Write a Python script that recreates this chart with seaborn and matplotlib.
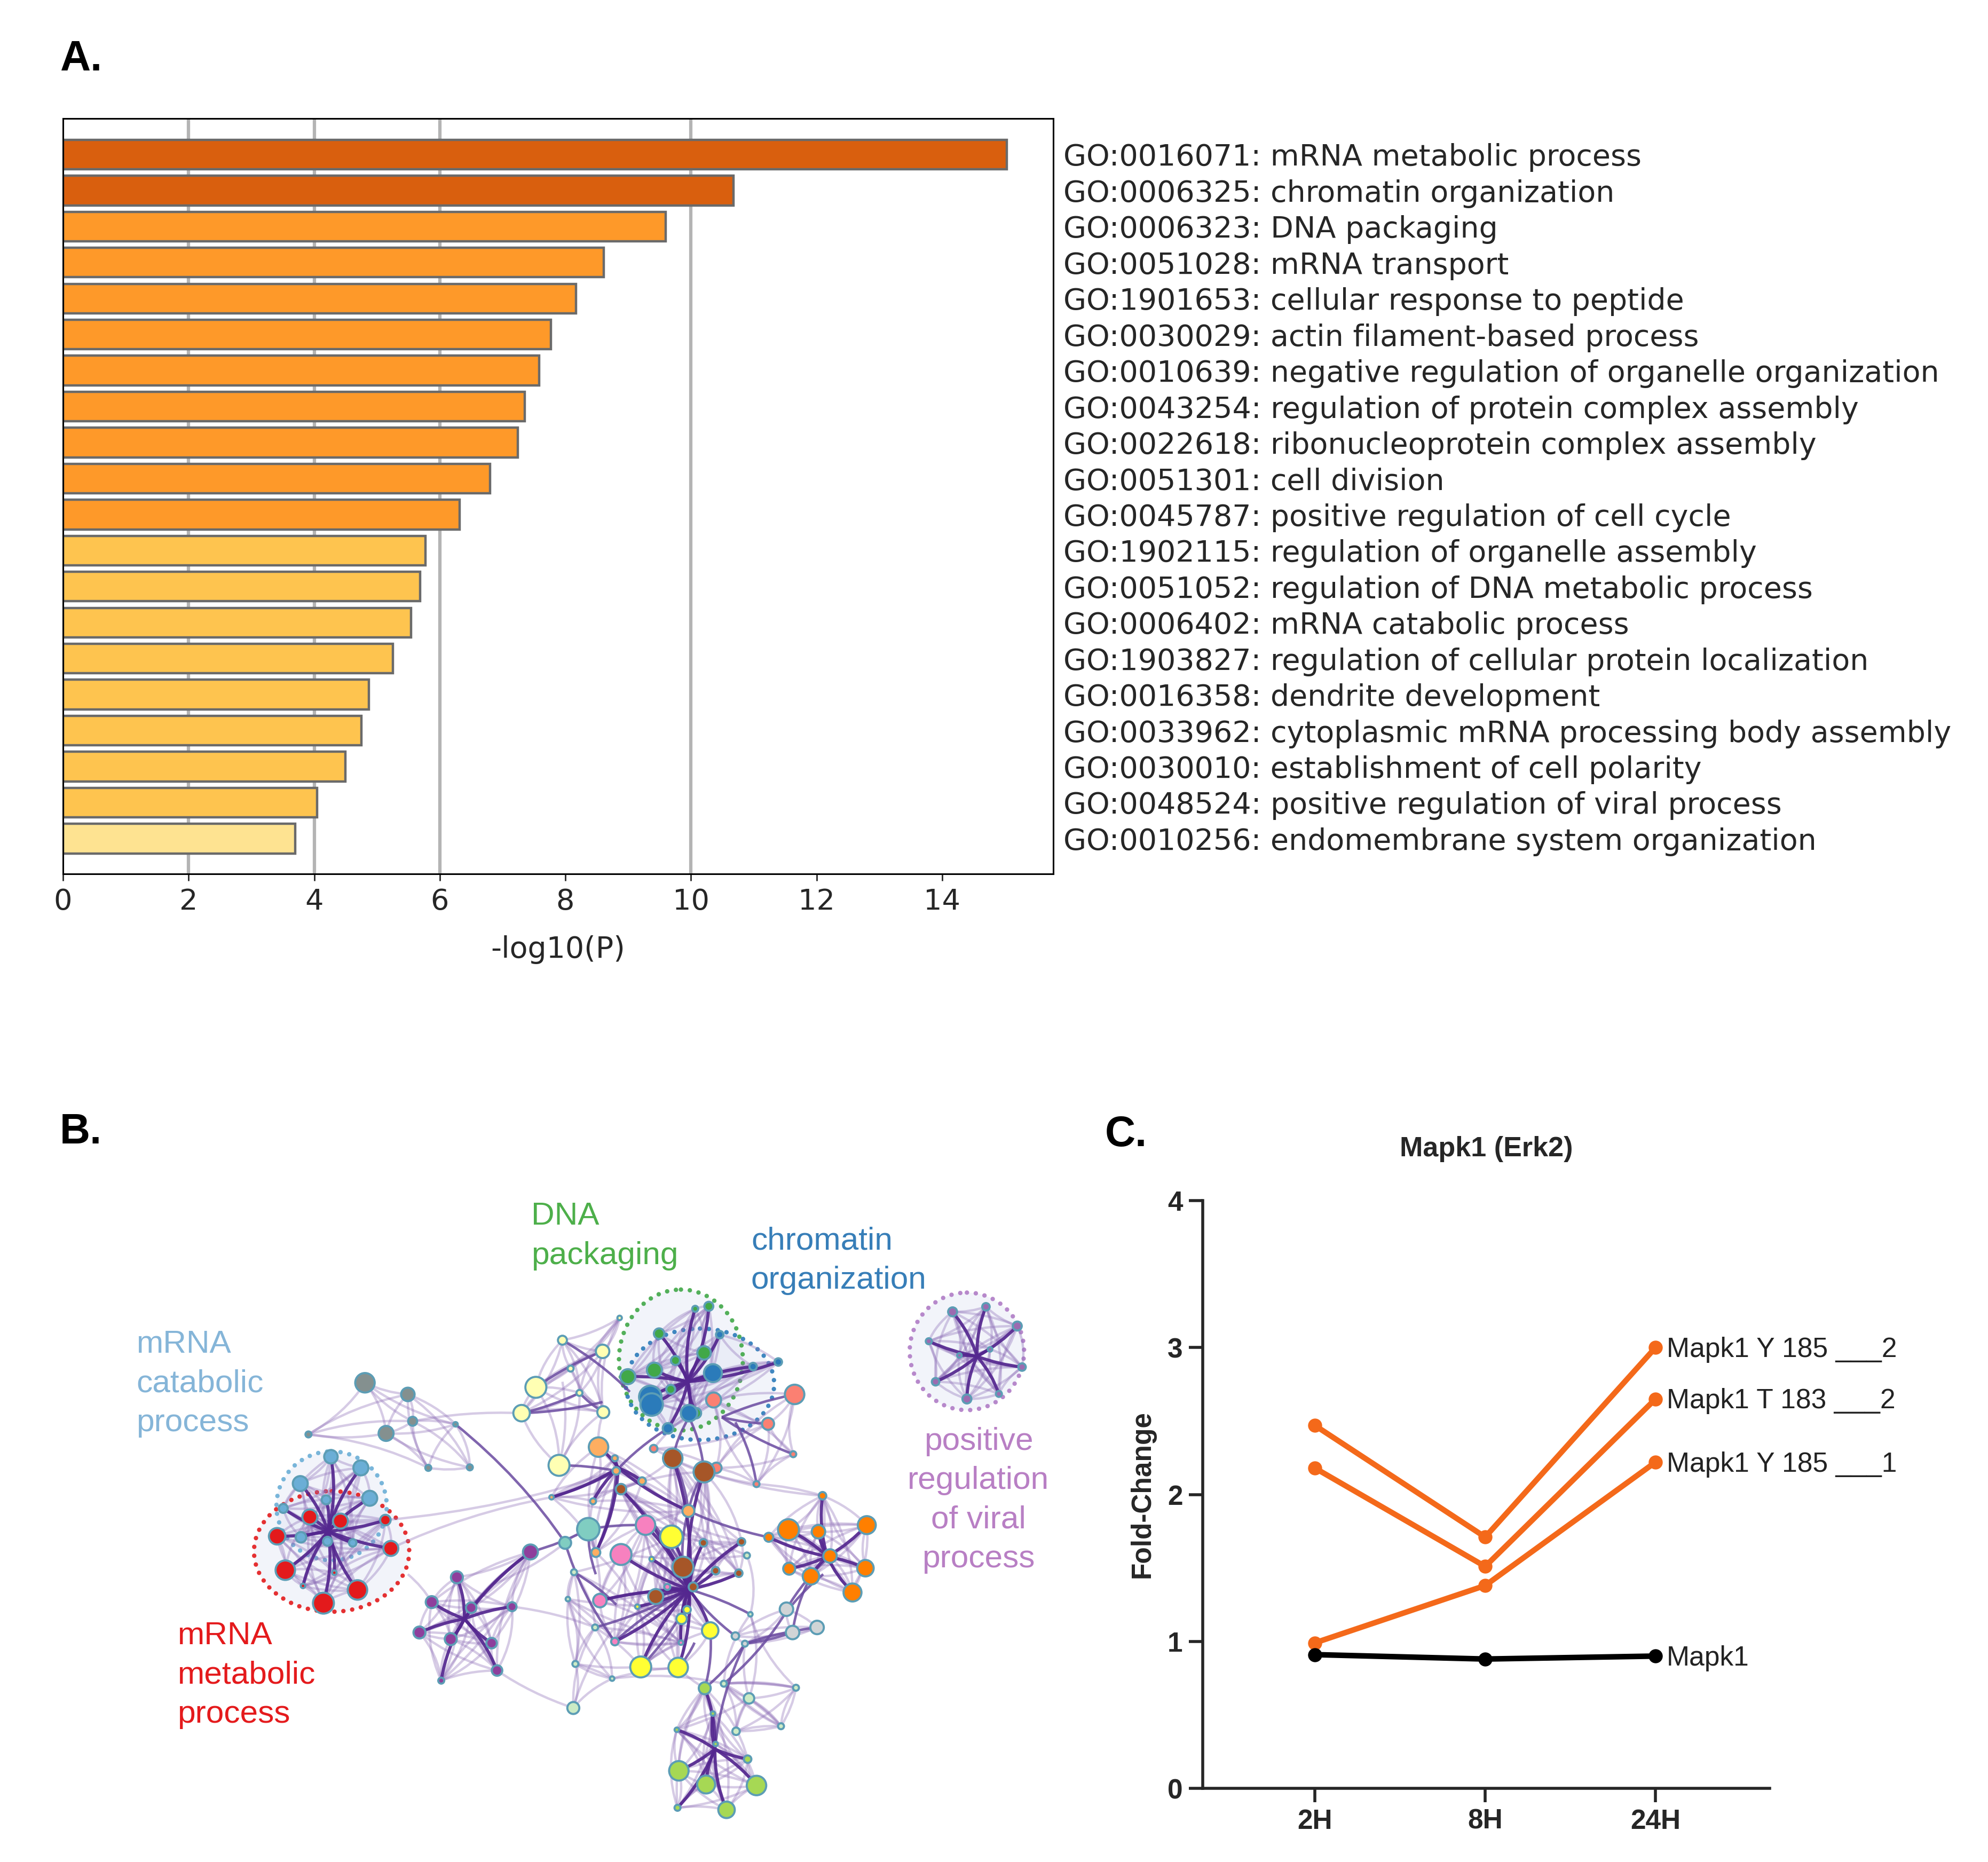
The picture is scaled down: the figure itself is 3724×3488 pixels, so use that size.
import numpy as np
import pandas as pd
import matplotlib
matplotlib.use('Agg')
from matplotlib import pyplot as plt
from matplotlib.collections import PathCollection
from matplotlib.patches import Ellipse
from matplotlib.path import Path
import seaborn as sns

W, H = 3724, 3488

# panel A
go_terms = ['GO:0016071: mRNA metabolic process', 'GO:0006325: chromatin organization',
            'GO:0006323: DNA packaging', 'GO:0051028: mRNA transport',
            'GO:1901653: cellular response to peptide', 'GO:0030029: actin filament-based process',
            'GO:0010639: negative regulation of organelle organization',
            'GO:0043254: regulation of protein complex assembly',
            'GO:0022618: ribonucleoprotein complex assembly', 'GO:0051301: cell division',
            'GO:0045787: positive regulation of cell cycle', 'GO:1902115: regulation of organelle assembly',
            'GO:0051052: regulation of DNA metabolic process', 'GO:0006402: mRNA catabolic process',
            'GO:1903827: regulation of cellular protein localization', 'GO:0016358: dendrite development',
            'GO:0033962: cytoplasmic mRNA processing body assembly', 'GO:0030010: establishment of cell polarity',
            'GO:0048524: positive regulation of viral process', 'GO:0010256: endomembrane system organization']
log_p = [15.03, 10.68, 9.60, 8.61, 8.17, 7.77, 7.58, 7.35, 7.24, 6.80,
         6.32, 5.77, 5.69, 5.54, 5.25, 4.87, 4.75, 4.50, 4.05, 3.70]
bar_level = ['a', 'a', 'b', 'b', 'b', 'b', 'b', 'b', 'b', 'b',
             'b', 'c', 'c', 'c', 'c', 'c', 'c', 'c', 'c', 'd']
level_colors = {'a': '#d95f0e', 'b': '#fe9929', 'c': '#fec44f', 'd': '#fee391'}
grid_at = [2, 4, 6, 10]

# panel C
timepoints = ['2H', '8H', '24H']
y185_2 = [2.47, 1.71, 3.00]
t183_2 = [2.18, 1.51, 2.65]
y185_1 = [0.99, 1.38, 2.22]
mapk1 = [0.91, 0.88, 0.90]
line_labels = ['Mapk1 Y 185 ___2', 'Mapk1 T 183 ___2', 'Mapk1 Y 185 ___1', 'Mapk1']

# panel B, node positions and radii
gray_x = [536, 599, 567, 606, 453, 669, 629, 690]
gray_y = [622, 645, 722, 698, 724, 704, 790, 789]
gray_r = [13, 9, 10, 6, 4, 3, 4, 4]
ltblue_x = [486, 530, 441, 543, 479, 416, 442, 481, 518]
ltblue_y = [768, 790, 821, 850, 853, 870, 927, 935, 938]
ltblue_r = [9, 10, 10, 10, 6, 6, 7, 6, 5]
red_x = [455, 500, 566, 407, 574, 419, 525, 475, 445, 491]
red_y = [887, 895, 893, 925, 949, 992, 1031, 1057, 1023, 997]
red_r = [10, 10, 7, 11, 10, 13, 13, 14, 3, 3]
violet_x = [671, 634, 692, 752, 616, 662, 722, 730, 648, 779]
violet_y = [1006, 1055, 1066, 1064, 1115, 1128, 1136, 1190, 1210, 956]
violet_r = [8, 8, 7, 6, 8, 8, 7, 7, 4, 10]
viral_x = [1399, 1448, 1494, 1364, 1501, 1374, 1420, 1467, 1409, 1454]
viral_y = [482, 472, 510, 540, 591, 620, 654, 644, 568, 556]
viral_r = [6, 5, 6, 4, 5, 5, 6, 4, 3, 3]
green_x = [1041, 1021, 968, 1034, 992, 961, 922, 985, 1022]
green_y = [471, 476, 525, 563, 578, 597, 610, 635, 682]
green_r = [6, 4, 7, 9, 6, 10, 10, 6, 7]
blue_x = [955, 957, 1047, 1012, 1057, 1106, 1143, 981]
blue_y = [650, 665, 603, 682, 527, 590, 581, 712]
blue_r = [15, 15, 12, 11, 5, 5, 5, 7]
salmon_x = [1167, 1048, 1128, 1165, 1111, 1052, 960]
salmon_y = [645, 656, 703, 763, 822, 790, 752]
salmon_r = [13, 10, 8, 4, 4, 7, 5]
pale_x = [787, 766, 885, 886, 826, 910, 851, 838, 821]
pale_y = [631, 682, 560, 680, 538, 494, 642, 594, 785]
pale_r = [14, 11, 9, 8, 6, 3, 4, 4, 14]
apricot_x = [879, 903, 905, 943, 871, 810, 1011, 875]
apricot_y = [749, 771, 796, 816, 856, 848, 875, 957]
apricot_r = [13, 4, 5, 5, 4, 3, 8, 6]
brown_x = [988, 1034, 912, 1003, 963, 1018, 1085, 1089, 1051, 1033]
brown_y = [771, 798, 832, 986, 1044, 1025, 998, 936, 993, 938]
brown_r = [13, 14, 7, 14, 10, 6, 5, 5, 5, 5]
teal_x = [864, 830]
teal_y = [911, 938]
teal_r = [15, 8]
pink_x = [948, 912, 881, 903, 1000, 980]
pink_y = [903, 961, 1052, 1133, 1135, 1025]
pink_r = [13, 14, 9, 5, 3, 4]
yellow_x = [986, 1043, 941, 996, 1001, 1009, 957, 936]
yellow_y = [926, 1111, 1183, 1184, 1088, 1070, 970, 1064]
yellow_r = [15, 11, 14, 13, 7, 5, 3, 3]
orange_x = [1158, 1202, 1273, 1129, 1219, 1159, 1191, 1271, 1252, 1208]
orange_y = [912, 916, 903, 927, 964, 989, 1004, 988, 1036, 845]
orange_r = [14, 9, 12, 6, 9, 8, 11, 11, 12, 5]
silver_x = [1155, 1164, 1200, 1080, 1094]
silver_y = [1069, 1115, 1105, 1122, 1137]
silver_r = [9, 9, 9, 5, 4]
mint_x = [842, 1063, 1100, 1169, 1147, 1081, 843, 834, 874, 845, 899, 1102, 1097]
mint_y = [1264, 1216, 1245, 1224, 1300, 1310, 996, 1049, 1105, 1177, 1206, 1079, 963]
mint_r = [8, 4, 7, 4, 4, 5, 4, 3, 4, 4, 3, 3, 4]
lime_x = [1035, 1047, 994, 1051, 1098, 997, 1037, 1111, 1067, 995]
lime_y = [1225, 1275, 1307, 1335, 1365, 1388, 1415, 1417, 1465, 1461]
lime_r = [8, 3, 3, 3, 5, 13, 12, 13, 11, 4]

# name, x, y, r, colour, hub of the star (None = no star)
clusters = [
    ('gray', gray_x, gray_y, gray_r, '#84908f', None),
    ('ltblue', ltblue_x, ltblue_y, ltblue_r, '#6baed6', (482, 915)),
    ('red', red_x, red_y, red_r, '#e31a1c', (482, 915)),
    ('violet', violet_x, violet_y, violet_r, '#8e3f9c', (682, 1088)),
    ('viral', viral_x, viral_y, viral_r, '#9c6bb0', (1435, 570)),
    ('green', green_x, green_y, green_r, '#41a848', (1010, 620)),
    ('blue', blue_x, blue_y, blue_r, '#2b7bba', (1010, 620)),
    ('salmon', salmon_x, salmon_y, salmon_r, '#fb8072', None),
    ('pale', pale_x, pale_y, pale_r, '#ffffb3', None),
    ('apricot', apricot_x, apricot_y, apricot_r, '#fdae61', (908, 790)),
    ('brown', brown_x, brown_y, brown_r, '#a65628', (1012, 1030)),
    ('teal', teal_x, teal_y, teal_r, '#80cdc1', None),
    ('pink', pink_x, pink_y, pink_r, '#f781bf', (1012, 1030)),
    ('yellow', yellow_x, yellow_y, yellow_r, '#ffff33', (1012, 1030)),
    ('orange', orange_x, orange_y, orange_r, '#ff7f00', (1215, 965)),
    ('silver', silver_x, silver_y, silver_r, '#d0d4d6', None),
    ('mint', mint_x, mint_y, mint_r, '#ccebc5', None),
    ('lime', lime_x, lime_y, lime_r, '#a6d854', (1050, 1345)),
]

bridges_strong = [(669, 704, 830, 938), (779, 956, 864, 911), (692, 1066, 779, 956), (1011, 875, 1129, 927),
                  (988, 771, 1011, 875), (1034, 798, 1011, 875), (912, 832, 1003, 986), (1011, 875, 1003, 986),
                  (1155, 1069, 1219, 964), (1191, 1004, 1164, 1115), (1164, 1115, 1094, 1137), (1200, 1105, 1094, 1137),
                  (1043, 1111, 1035, 1225), (1094, 1137, 1050, 1345), (1094, 1137, 1035, 1225), (1102, 1079, 1012, 1030),
                  (1080, 1122, 1012, 1030), (766, 682, 885, 660), (905, 796, 981, 712), (810, 848, 905, 796),
                  (821, 785, 905, 796), (1012, 690, 988, 771), (1012, 690, 1034, 798), (1060, 690, 1165, 763),
                  (1080, 700, 1111, 822), (830, 938, 903, 1133), (864, 911, 948, 903), (875, 957, 905, 796),
                  (826, 538, 925, 640), (766, 682, 851, 642), (787, 631, 885, 560), (851, 642, 886, 680),
                  (1060, 690, 1167, 645), (1060, 690, 1128, 703), (881, 1052, 1012, 1030), (864, 911, 875, 1000),
                  (843, 996, 905, 1060), (874, 1105, 1012, 1030), (903, 1133, 1012, 1030), (941, 1183, 1012, 1050),
                  (1020, 1135, 996, 1184), (1063, 1216, 1147, 1090), (1147, 1090, 1209, 1000)]
bridges_light = [(606, 698, 766, 682), (566, 893, 905, 796), (574, 949, 810, 848), (730, 1190, 842, 1264),
                 (842, 1264, 900, 1110), (1034, 798, 1208, 845), (1111, 822, 1208, 845), (821, 785, 826, 620),
                 (599, 1000, 634, 1055), (722, 1021, 830, 938), (752, 1064, 874, 1105), (886, 680, 879, 749),
                 (1063, 1216, 1169, 1224), (1063, 1216, 1147, 1300), (1100, 1245, 1147, 1300), (1100, 1245, 1081, 1310),
                 (1169, 1224, 1147, 1300), (1081, 1310, 1147, 1300), (1100, 1245, 1094, 1137), (1169, 1224, 1063, 1216),
                 (874, 1105, 941, 1183), (845, 1177, 941, 1183), (899, 1206, 996, 1184), (845, 1177, 843, 996),
                 (843, 996, 1000, 1135), (834, 1049, 1000, 1135), (834, 1049, 903, 1133), (903, 1133, 1000, 1135),
                 (864, 911, 881, 1052), (912, 961, 881, 1052), (948, 903, 1097, 963), (986, 926, 1089, 936),
                 (875, 957, 936, 1064), (1035, 1225, 994, 1307), (1100, 1245, 994, 1307), (912, 961, 1097, 963),
                 (874, 1105, 1000, 1135), (834, 1049, 1003, 1060), (948, 903, 903, 1133), (843, 996, 986, 926),
                 (941, 1183, 1000, 1135), (996, 1184, 1035, 1225), (845, 1177, 899, 1206), (1147, 1300, 1063, 1216)]

# enclosing dotted ellipses: x, y, width, height, colour
ring_x = [487, 487, 1000, 1028, 1420]
ring_y = [955, 865, 577, 625, 560]
ring_w = [228, 162, 182, 218, 168]
ring_h = [238, 215, 278, 220, 232]
ring_c = ['#e31a1c', '#6baed6', '#41a848', '#2b7bba', '#b07cc6']

label_text = ['DNA\npackaging', 'chromatin\norganization', 'mRNA\ncatabolic\nprocess', 'mRNA\nmetabolic\nprocess']
label_x = [780, 1103, 200, 260]
label_y = [265, 313, 517, 1093]
label_c = ['#4daf4a', '#377eb8', '#85b5d8', '#e41a1c']
viral_label = 'positive\nregulation\nof viral\nprocess'


def box(x0, y0, x1, y1):
    return [x0 / W, 1 - y1 / H, (x1 - x0) / W, (y1 - y0) / H]


def curve(x0, y0, x1, y1, bend):
    cx = (x0 + x1) / 2 - (y1 - y0) * bend
    cy = (y0 + y1) / 2 + (x1 - x0) * bend
    return Path([(x0, y0), (cx, cy), (x1, y1)], [Path.MOVETO, Path.CURVE3, Path.CURVE3])


sns.set_theme(style='ticks')
plt.rcParams['font.family'] = ['DejaVu Sans']
fig = plt.figure(figsize=(W / 100, H / 100), dpi=100, facecolor='white')

# ---- A
ax_a = fig.add_axes(box(118, 222, 1973, 1637))
ax_a.set_facecolor('white')
for g in grid_at:
    ax_a.axvline(g, color='#b4b4b4', lw=4.5, zorder=0)
df_a = pd.DataFrame({'term': go_terms, 'value': log_p, 'level': bar_level})
sns.barplot(data=df_a, x='value', y='term', hue='level', palette=level_colors, dodge=False, legend=False,
            width=0.82, edgecolor='#6a6a6a', linewidth=3.2, saturation=1, ax=ax_a, zorder=2)
ax_a.set_xlim(0, 15.77)
ax_a.set_ylim(19.98, -1.0)
ax_a.set_xticks(range(0, 15, 2))
ax_a.set_xlabel('-log10(P)', fontsize=40, labelpad=26)
ax_a.set_ylabel('')
ax_a.yaxis.tick_right()
ax_a.tick_params(axis='y', length=0, pad=14, labelsize=40)
ax_a.tick_params(axis='x', length=9, width=2, labelsize=39, pad=10)
for s in ax_a.spines.values():
    s.set_linewidth(2.2)
    s.set_color('black')
    s.set_visible(True)

# ---- B
ax_b = fig.add_axes(box(0, 2000, 2000, 3488))
ax_b.set_xlim(0, 1568)
ax_b.set_ylim(1568, 0)
ax_b.axis('off')
ax_b.patch.set_alpha(0)

for rx, ry, rw, rh, rc in zip(ring_x, ring_y, ring_w, ring_h, ring_c):
    ax_b.add_patch(Ellipse((rx, ry), rw, rh, facecolor='#dfe4f3', alpha=0.38, edgecolor='none', zorder=1))
    ax_b.add_patch(Ellipse((rx, ry), rw, rh, facecolor='none', edgecolor=rc, lw=6,
                           linestyle=(0, (0.01, 2.0)), capstyle='round', alpha=0.9, zorder=1.5))

light_paths, dark_paths, mid_paths = [], [], []
for name, xs, ys, rs, col, hub in clusters:
    n = len(xs)
    for i in range(n):
        for j in range(i + 1, n):
            bend = 0.12 if (i + j) % 2 else -0.12
            if hub is not None or (xs[i] - xs[j]) ** 2 + (ys[i] - ys[j]) ** 2 < 190 ** 2:
                light_paths.append(curve(xs[i], ys[i], xs[j], ys[j], bend))
        if hub is not None:
            dark_paths.append(curve(xs[i], ys[i], hub[0], hub[1], 0.08 if i % 2 else -0.08))
for k, (x0, y0, x1, y1) in enumerate(bridges_strong):
    mid_paths.append(curve(x0, y0, x1, y1, 0.07 if k % 2 else -0.07))
for k, (x0, y0, x1, y1) in enumerate(bridges_light):
    light_paths.append(curve(x0, y0, x1, y1, 0.08 if k % 2 else -0.08))

for paths, col, lw, al, z in [(light_paths, '#8e6fb8', 3.2, 0.36, 2), (mid_paths, '#6a4aa0', 3.4, 0.85, 2.2),
                              (dark_paths, '#54278f', 4.2, 0.92, 2.4)]:
    pc = PathCollection(paths, facecolor='none', edgecolor=col, linewidth=lw, alpha=al, zorder=z,
                        transform=ax_b.transData)
    ax_b.add_collection(pc)

for name, xs, ys, rs, col, hub in clusters:
    sizes = (2 * np.array(rs) * 1.2755 * 0.72 * 1.1) ** 2
    sns.scatterplot(x=xs, y=ys, s=sizes, color=col, edgecolor='#5c9db5', linewidth=2.8, ax=ax_b, zorder=3,
                    legend=False)
ax_b.set_xlim(0, 1568)
ax_b.set_ylim(1568, 0)

for t, lx, ly, lc in zip(label_text, label_x, label_y, label_c):
    ax_b.text(lx, ly, t, color=lc, fontsize=43.5, family='Liberation Sans', va='top', ha='left', linespacing=1.43)
ax_b.text(1437, 709, viral_label, color='#b87fc4', fontsize=43.5, family='Liberation Sans', va='top', ha='center',
          linespacing=1.43)

# ---- C
ax_c = fig.add_axes(box(2253, 2249, 3315, 3350))
ax_c.patch.set_alpha(0)
df_c = pd.DataFrame({'time': timepoints * 4,
                     'fold': y185_2 + t183_2 + y185_1 + mapk1,
                     'site': [l for l in line_labels for _ in timepoints]})
pal = dict(zip(line_labels, ['#f4691a', '#f4691a', '#f4691a', '#000000']))
sns.lineplot(data=df_c, x='time', y='fold', hue='site', units='site', estimator=None, palette=pal, marker='o',
             markersize=19, markeredgewidth=0, linewidth=7.5, legend=False, sort=False, ax=ax_c)
ax_c.set_xlim(-0.658, 2.67)
ax_c.set_ylim(0, 4)
ax_c.set_xticks(range(3))
ax_c.set_xticklabels(timepoints, fontsize=37, fontweight='bold', family='Liberation Sans')
ax_c.set_yticks(range(5))
ax_c.set_yticklabels(range(5), fontsize=37, fontweight='bold', family='Liberation Sans')
ax_c.tick_params(length=19, width=4, pad=8)
ax_c.set_xlabel('')
ax_c.set_ylabel('Fold-Change', fontsize=37, fontweight='bold', family='Liberation Sans', labelpad=16)
ax_c.set_title('Mapk1 (Erk2)', fontsize=37.5, fontweight='bold', family='Liberation Sans', pad=60)
for s in ['top', 'right']:
    ax_c.spines[s].set_visible(False)
for s in ['left', 'bottom']:
    ax_c.spines[s].set_linewidth(4)
for lab, yv in zip(line_labels, [y185_2[2], t183_2[2], y185_1[2], mapk1[2]]):
    ax_c.annotate(lab, (2, yv), xytext=(15, -3), textcoords='offset points', va='center', fontsize=37.2,
                  family='Liberation Sans', color='#222222')

# panel letters
for letter, px, py in [('A.', 112, 112), ('B.', 112, 2122), ('C.', 2070, 2126)]:
    fig.text(px / W, 1 - py / H, letter, fontsize=57, fontweight='bold', family='Liberation Sans', va='center',
             ha='left', color='black')

fig.savefig('out.png', dpi=100)
